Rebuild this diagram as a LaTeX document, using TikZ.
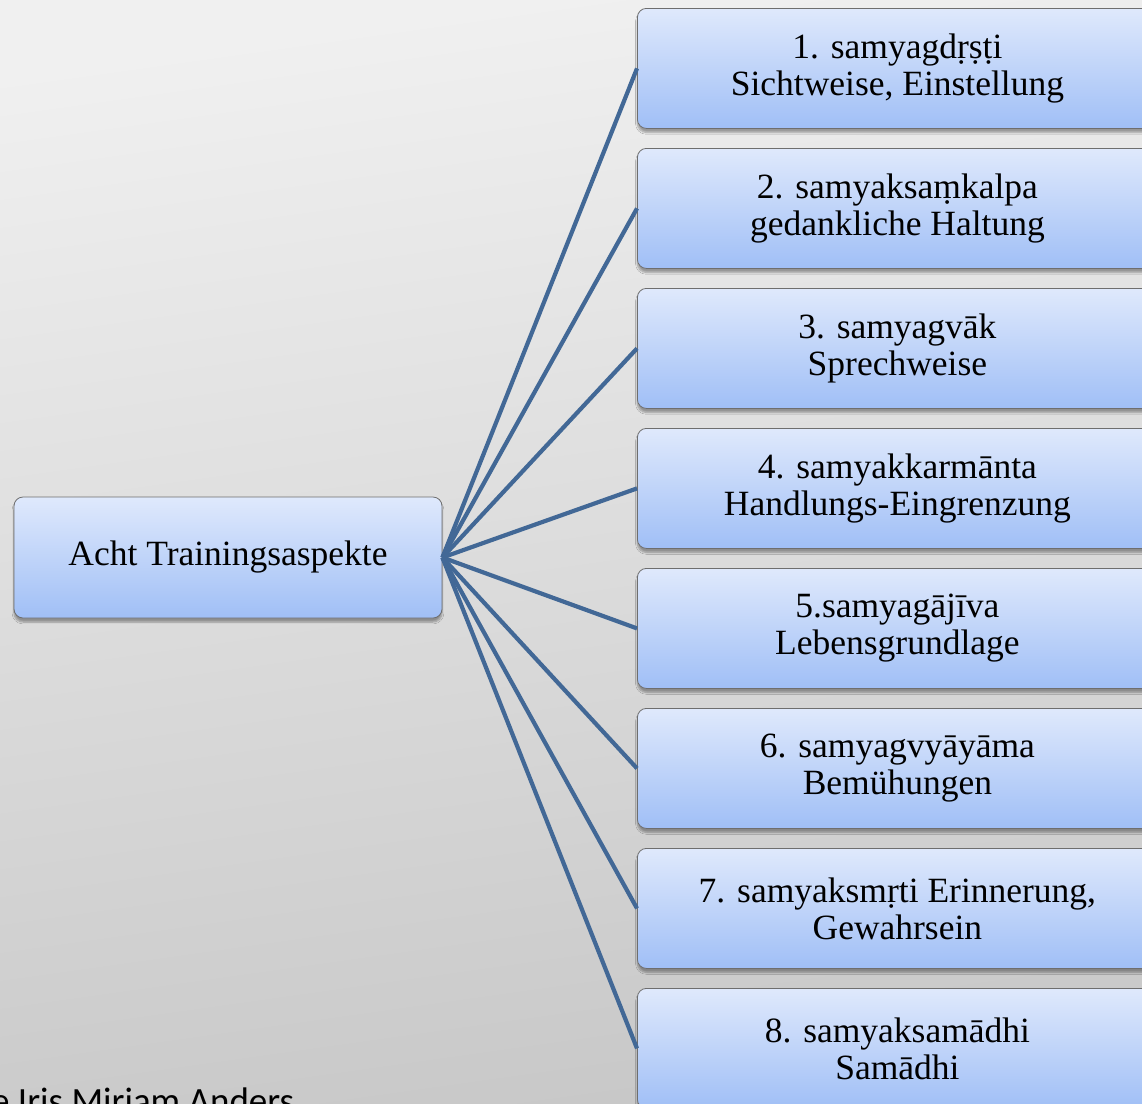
\documentclass[tikz,border=0pt]{standalone}
\usepackage{fontspec}
\setmainfont{Liberation Serif}
\newfontfamily\capfont{Carlito}
\usetikzlibrary{shadows.blur}
\definecolor{bgtop}{RGB}{240,240,240}
\definecolor{bgbot}{RGB}{200,200,200}
\definecolor{boxtop}{RGB}{223,233,252}
\definecolor{boxbot}{RGB}{160,191,246}
\definecolor{boxline}{RGB}{110,110,110}
\definecolor{linkcol}{RGB}{66,104,150}
\tikzset{
  box/.style={draw=boxline, line width=0.8pt, rounded corners=9pt,
    top color=boxtop, bottom color=boxbot, align=center,
    font=\fontsize{35.5}{37}\selectfont, inner sep=0pt,
    blur shadow={shadow xshift=0pt, shadow yshift=-4pt, shadow blur steps=6, shadow opacity=35}},
  leafbox/.style={box, minimum width=520pt, minimum height=120pt, anchor=north west},
  link/.style={draw=linkcol, line width=4.2pt}
}
\begin{document}
\begin{tikzpicture}[x=1pt,y=-1pt]
\useasboundingbox (0,0) rectangle (1142,1103);
\clip (0,0) rectangle (1142,1103);
\shade[top color=bgtop, bottom color=bgbot, shading angle=8] (0,0) rectangle (1142,1103);
\node[box, minimum width=428pt, minimum height=121pt] (root) at (228,557.5) {Acht Trainingsaspekte};
\node[leafbox] (b1) at (637,8) {1. samyagdṛṣṭi\\Sichtweise, Einstellung};
\node[leafbox] (b2) at (637,148) {2. samyaksaṃkalpa\\gedankliche Haltung};
\node[leafbox] (b3) at (637,288) {3. samyagvāk\\Sprechweise};
\node[leafbox] (b4) at (637,428) {4. samyakkarmānta\\Handlungs-Eingrenzung};
\node[leafbox] (b5) at (637,568) {5.samyagājīva\\Lebensgrundlage};
\node[leafbox] (b6) at (637,708) {6. samyagvyāyāma\\Bemühungen};
\node[leafbox] (b7) at (637,848) {7. samyaksmṛti Erinnerung,\\Gewahrsein};
\node[leafbox] (b8) at (637,988) {8. samyaksamādhi\\Samādhi};
\foreach \i in {1,...,8} {\draw[link] (root.east) -- (b\i.west);}
\node[anchor=base west, inner sep=0pt, font=\capfont\fontsize{37}{40}\selectfont] (credit) at (-9,1113) {e Iris Miriam Anders};
\end{tikzpicture}
\end{document}
